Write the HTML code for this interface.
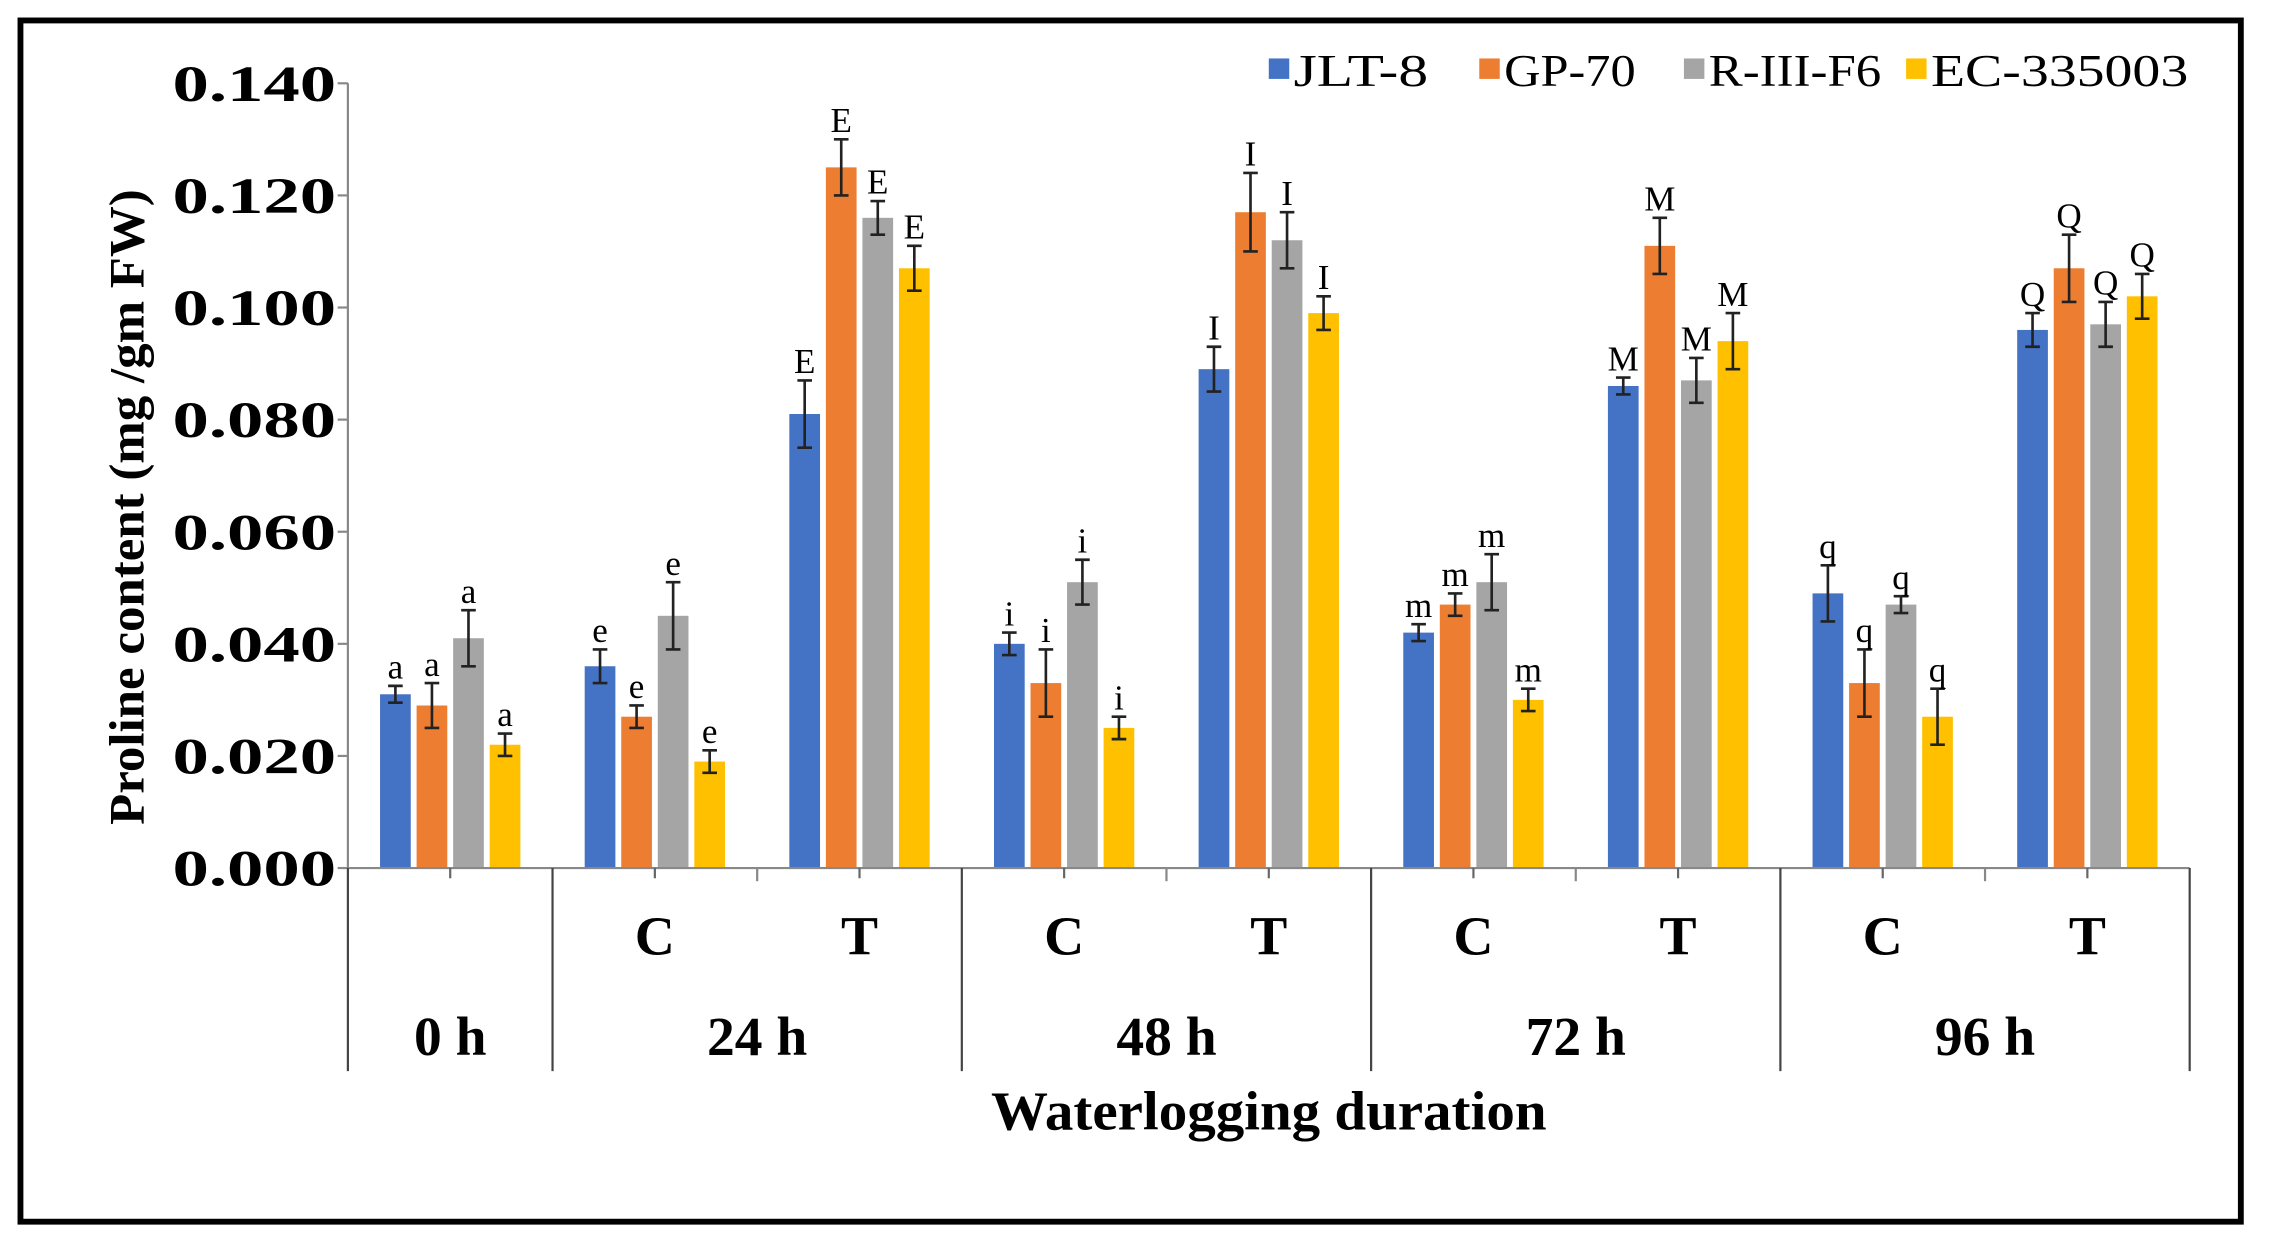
<!DOCTYPE html>
<html><head><meta charset="utf-8"><style>
html,body{margin:0;padding:0;background:#fff;}
svg{display:block;}
text{font-family:"Liberation Serif",serif;}
</style></head><body>
<svg id="chart" width="2273" height="1248" viewBox="0 0 1555 854" preserveAspectRatio="none" xmlns="http://www.w3.org/2000/svg">
<rect x="14" y="14" width="1519" height="822" fill="#fff" stroke="#000" stroke-width="4"/>
<g id="g"></g>
</svg>
<script>
const categories = ["0 h","C","T","C","T","C","T","C","T"];
const groupLabels = ["0 h","24 h","48 h","72 h","96 h"];
const seriesNames = ["JLT-8","GP-70","R-III-F6","EC-335003"];
const colors = ["#4472c4","#ed7d31","#a5a5a5","#ffc000"];
const jlt8 = [0.031,0.036,0.081,0.040,0.089,0.042,0.086,0.049,0.096];
const gp70 = [0.029,0.027,0.125,0.033,0.117,0.047,0.111,0.033,0.107];
const r3f6 = [0.041,0.045,0.116,0.051,0.112,0.051,0.087,0.047,0.097];
const ec335003 = [0.022,0.019,0.107,0.025,0.099,0.030,0.094,0.027,0.102];
const errJlt8 = [0.0015,0.003,0.006,0.002,0.004,0.0015,0.0015,0.005,0.003];
const errGp70 = [0.004,0.002,0.005,0.006,0.007,0.002,0.005,0.006,0.006];
const errR3f6 = [0.005,0.006,0.003,0.004,0.005,0.005,0.004,0.0015,0.004];
const errEc = [0.002,0.002,0.004,0.002,0.003,0.002,0.005,0.005,0.004];
const letters = ["a","e","E","i","I","m","M","q","Q"];
const yTicks = [0,0.02,0.04,0.06,0.08,0.10,0.12,0.14];

const series=[jlt8,gp70,r3f6,ec335003];
const errs=[errJlt8,errGp70,errR3f6,errEc];
const NS="http://www.w3.org/2000/svg";
const g=document.getElementById('g');
const X0=238,X1=1498,Y0=594,Y1=57,VMAX=0.14;
const catW=(X1-X0)/categories.length;
function y(v){return Y0-(v/VMAX)*(Y0-Y1);}
function xc(i){return X0+catW*(i+0.5);}
function mk(tag,attrs,txt){const e=document.createElementNS(NS,tag);for(const k in attrs)e.setAttribute(k,attrs[k]);if(txt!==undefined)e.textContent=txt;g.appendChild(e);return e;}

let e=mk('line',{x1:X0,y1:Y1,x2:X0,y2:Y0,stroke:'#888','stroke-width':1.5});


yTicks.forEach(v=>{
  let t=mk('line',{x1:X0-7,y1:y(v),x2:X0,y2:y(v),stroke:'#888','stroke-width':1.5});
  
  
  let l=mk('text',{x:X0-120,y:y(v)+12,'font-size':35,'font-weight':'bold',textLength:112,lengthAdjust:'spacingAndGlyphs'},v.toFixed(3));
  
  
});
e=mk('text',{x:0,y:0,transform:'translate(98,347) rotate(-90)','text-anchor':'middle','font-size':34,'font-weight':'bold',textLength:435,lengthAdjust:'spacingAndGlyphs'},'Proline content (mg /gm FW)');



const bw=21, step=25;
categories.forEach((c,i)=>{
  series.forEach((s,k)=>{
    const cx=xc(i)+(k-1.5)*step;
    const v=s[i], er=errs[k][i];
    let r=mk('rect',{x:cx-bw/2,y:y(v),width:bw,height:Y0-y(v),fill:colors[k]});
    
    
    let el=mk('path',{d:`M${cx},${y(v+er)}V${y(v-er)}M${cx-5},${y(v+er)}H${cx+5}M${cx-5},${y(v-er)}H${cx+5}`,stroke:'#222','stroke-width':1.8,fill:'none'});
    
    
    let lt=mk('text',{x:cx,y:y(v+er)-5,'text-anchor':'middle','font-size':24},letters[i]);
    
    
  });
});
e=mk('line',{x1:X0,y1:Y0,x2:X1,y2:Y0,stroke:'#888','stroke-width':1.5});


for(let i=0;i<=categories.length;i++){
  const x=X0+catW*i;
  const full=(i===0||i%2===1);
  let t=mk('line',{x1:x,y1:Y0,x2:x,y2:full?733:603,stroke:full?'#444':'#888','stroke-width':1.5});
  
  
}
categories.forEach((c,i)=>{
  let t=mk('line',{x1:xc(i),y1:Y0,x2:xc(i),y2:Y0+7,stroke:'#666','stroke-width':1.5});
  
  
  if(i>0){
    let l=mk('text',{x:xc(i),y:653,'text-anchor':'middle','font-size':38,'font-weight':'bold'},c);
    
    
  }
});
groupLabels.forEach((gl,j)=>{
  const cx=j===0?xc(0):(xc(2*j-1)+xc(2*j))/2;
  let l=mk('text',{x:cx,y:722,'text-anchor':'middle','font-size':38,'font-weight':'bold'},gl);
  
  
});
e=mk('text',{x:868,y:773,'text-anchor':'middle','font-size':38,'font-weight':'bold',textLength:380,lengthAdjust:'spacingAndGlyphs'},'Waterlogging duration');


const lx=[868,1012,1152,1304];
const lw=[92,90,118,176];
seriesNames.forEach((n,k)=>{
  let s=mk('rect',{x:lx[k],y:40,width:14,height:14,fill:colors[k]});
  
  
  let t=mk('text',{x:lx[k]+17,y:59,'font-size':31,textLength:lw[k],lengthAdjust:'spacingAndGlyphs'},n);
  
  
});
</script>
</body></html>
